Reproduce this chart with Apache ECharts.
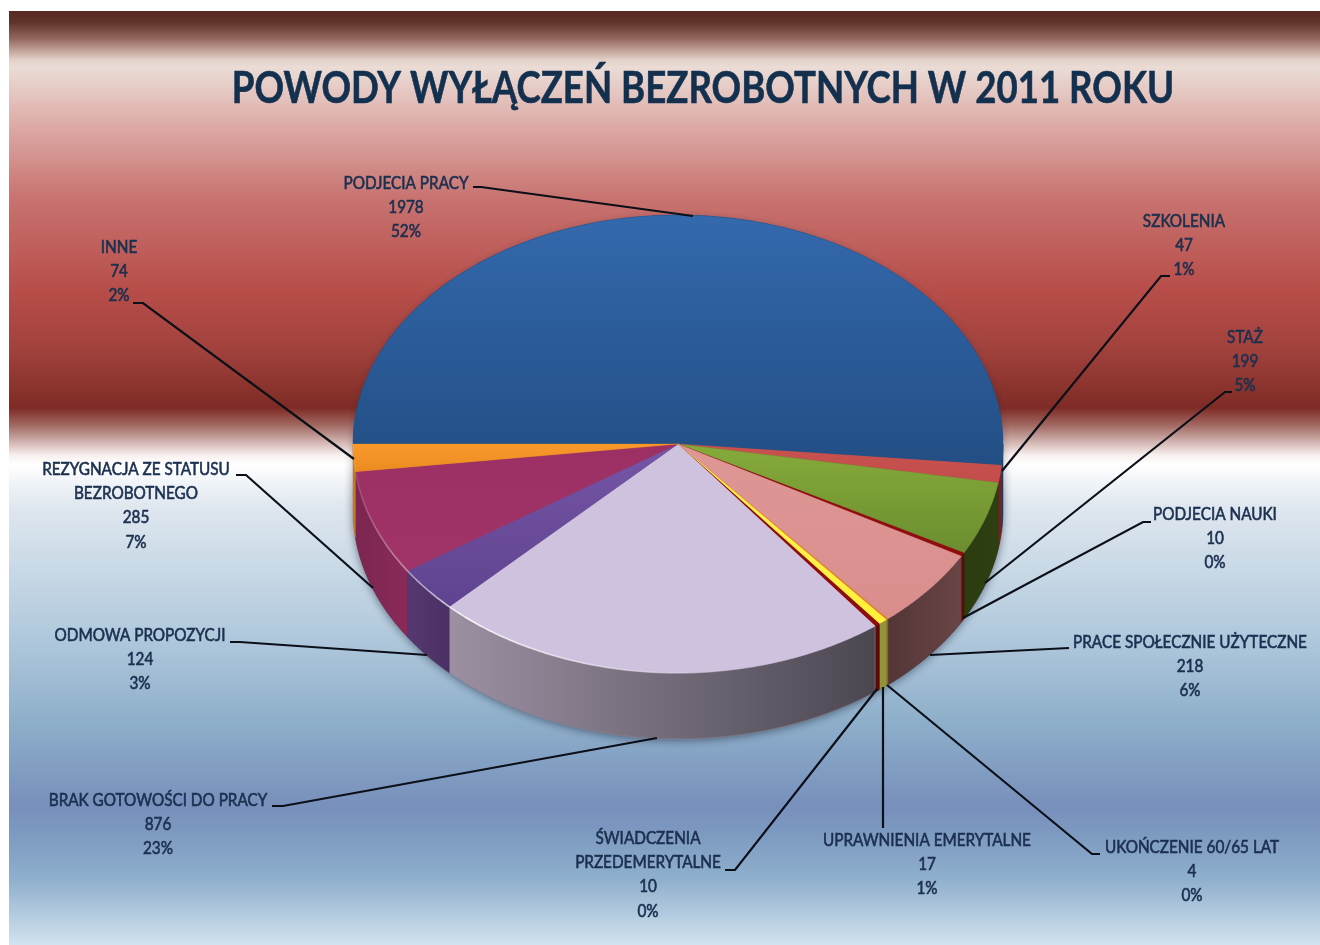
<!DOCTYPE html>
<html>
<head>
<meta charset="utf-8">
<title>Powody wyłączeń bezrobotnych</title>
<style>
html, body { margin: 0; padding: 0; background: #fff; }
#chart { width: 1320px; height: 945px; }
</style>
<script src="https://cdn.jsdelivr.net/npm/echarts@6/dist/echarts.min.js"></script>
</head>
<body>
<div id="chart"></div>
<script>
// data
var chartTitle = 'POWODY WYŁĄCZEŃ BEZROBOTNYCH W 2011 ROKU';
var categories = ['PODJECIA PRACY', 'SZKOLENIA', 'STAŻ', 'PODJECIA NAUKI', 'PRACE SPOŁECZNIE UŻYTECZNE',
  'UKOŃCZENIE 60/65 LAT', 'UPRAWNIENIA EMERYTALNE', 'ŚWIADCZENIA\nPRZEDEMERYTALNE', 'BRAK GOTOWOŚCI DO PRACY',
  'ODMOWA PROPOZYCJI', 'REZYGNACJA ZE STATUSU\nBEZROBOTNEGO', 'INNE'];
var values = [1978, 47, 199, 10, 218, 4, 17, 10, 876, 124, 285, 74];
var percentLabels = ['52%', '1%', '5%', '0%', '6%', '0%', '1%', '0%', '23%', '3%', '7%', '2%'];

// slice colours
var topColors = [['#3469ad', '#224e84'], ['#c9524f', '#c24d4a'], ['#86ab3a', '#6c8d30'], ['#8f0c0c', '#8f0c0c'],
  ['#de9795', '#d98e8c'], ['#e0842a', '#e0842a'], ['#fff25a', '#fff03a'], ['#8f0c0c', '#8f0c0c'],
  ['#cfc2de', '#cfc2de'], ['#7655a6', '#5f4390'], ['#9c3064', '#a03468'], ['#fa9a2c', '#ec8a20']];
var sideColors = [['#1e3f68', '#1e3f68'], ['#7a1f1f', '#7a1f1f'], ['#2b3c10', '#2e4012'], ['#5e0808', '#5e0808'],
  ['#533636', '#6a4545'], ['#8a6a20', '#8a6a20'], ['#93923a', '#93923a'], ['#5e0808', '#5e0808'],
  ['#9c90a2', '#4b4751'], ['#553870', '#4a3064'], ['#7b2651', '#8a2a58'], ['#c77a20', '#c77a20']];

// pie geometry
var cx = 678, cy = 444, rx = 325, ry = 229, depth = 66, startAngle = 180;

// label layout: centre x and top of the text block
var labelX = [406, 1184, 1245, 1215, 1190, 1192, 927, 648, 158, 140, 136, 119];
var labelY = [171, 209, 325, 502, 630, 835, 828, 826, 788, 623, 457, 235];
// leader lines, label end first
var leaders = [
  [[473, 187], [481, 187], [693, 216]],
  [[1170, 276], [1161, 276], [1002, 471]],
  [[1232, 392], [1225, 392], [985, 583]],
  [[1151, 522], [1143, 522], [963, 618]],
  [[1069, 648], [930, 655]],
  [[1100, 854], [1092, 854], [887, 685]],
  [[883, 828], [883, 687]],
  [[725, 870], [735, 870], [877, 689]],
  [[272, 806], [283, 806], [657, 738]],
  [[230, 642], [240, 642], [427, 655]],
  [[236, 475], [246, 475], [373, 588]],
  [[133, 303], [143, 303], [354, 459]]
];

var total = values.reduce(function (a, b) { return a + b; }, 0);

function ell(deg, dy) {
  var r = deg * Math.PI / 180;
  return [cx + rx * Math.cos(r), cy + ry * Math.sin(r) + (dy || 0)];
}
function arc(a0, a1, dy) {
  var pts = [], n = Math.max(2, Math.ceil((a1 - a0) * 2));
  for (var i = 0; i <= n; i++) pts.push(ell(a0 + (a1 - a0) * i / n, dy));
  return pts;
}
function grad(c, horizontal) {
  return new echarts.graphic.LinearGradient(0, 0, horizontal ? 1 : 0, horizontal ? 0 : 1,
    [{ offset: 0, color: c[0] }, { offset: 1, color: c[1] }]);
}

function renderSlice(params, api) {
  var i = params.dataIndex, before = 0;
  for (var k = 0; k < i; k++) before += values[k];
  var a0 = startAngle + before / total * 360;
  var a1 = a0 + api.value(0) / total * 360;
  var children = [];
  var top = [[cx, cy]].concat(arc(a0, a1));

  // soft shadow under the disc
  children.push({ type: 'polygon', z2: 0, shape: { points: top },
    style: { fill: topColors[i][1], shadowBlur: 8, shadowColor: 'rgba(20,30,50,0.3)', shadowOffsetY: 2 } });

  // outer wall, front half only
  var w0 = Math.max(a0, 360), w1 = Math.min(a1, 540);
  // the first slices run past 360, the last ones stop at 540
  if (w1 > w0) {
    var wall = arc(w0, w1).concat(arc(w0, w1, depth).reverse());
    children.push({ type: 'polygon', z2: 0, shape: { points: wall },
      style: { fill: '#444', shadowBlur: 10, shadowColor: 'rgba(20,30,50,0.6)', shadowOffsetY: 1 } });
    children.push({ type: 'polygon', z2: 1, shape: { points: wall },
      style: { fill: grad(sideColors[i], true), stroke: sideColors[i][0], lineWidth: 0.5 } });
  }

  children.push({ type: 'polygon', z2: 2, shape: { points: top },
    style: { fill: grad(topColors[i]), stroke: topColors[i][1], lineWidth: 0.4 } });

  // light bevel along the front rim
  if (w1 > w0) {
    children.push({ type: 'polyline', z2: 3, shape: { points: arc(w0, w1) },
      style: { fill: null, lineWidth: 1.6, stroke: new echarts.graphic.LinearGradient(cx - rx, 0, cx + 60, 0, [
        { offset: 0, color: 'rgba(255,255,255,0.1)' },
        { offset: 0.3, color: 'rgba(255,255,255,0.85)' },
        { offset: 1, color: 'rgba(255,255,255,0)' }
      ], true) } });
  }

  children.push({ type: 'polyline', z2: 4, shape: { points: leaders[i] },
    style: { fill: null, stroke: '#0b0f18', lineWidth: 2.2 } });

  children.push({ type: 'text', z2: 5, x: labelX[i], y: labelY[i], scaleX: 0.9,
    style: {
      text: categories[i] + '\n' + values[i] + '\n' + percentLabels[i],
      x: 0, y: 0, align: 'center', verticalAlign: 'top',
      font: '17px Lato', lineHeight: 24.3, fill: '#1b2f4f',
      stroke: '#1b2f4f', lineWidth: 0.6
    } });

  return { type: 'group', children: children };
}

var chart = echarts.init(document.getElementById('chart'), null, { renderer: 'canvas' });
chart.setOption({
  animation: false,
  backgroundColor: '#fff',
  graphic: [
    { type: 'rect', z: -10, silent: true, shape: { x: 9, y: 11, width: 1311, height: 934 },
      style: { fill: new echarts.graphic.LinearGradient(0, 0, 0, 1, [
        { offset: 0, color: '#572a22' },
        { offset: 0.012, color: '#603229' },
        { offset: 0.03, color: '#96695f' },
        { offset: 0.052, color: '#e2cfc8' },
        { offset: 0.06, color: '#ebdcd6' },
        { offset: 0.125, color: '#dca9a5' },
        { offset: 0.2, color: '#c87370' },
        { offset: 0.3, color: '#b74d49' },
        { offset: 0.36, color: '#a2423d' },
        { offset: 0.425, color: '#7f2b25' },
        { offset: 0.445, color: '#a56e68' },
        { offset: 0.475, color: '#f6eeec' },
        { offset: 0.485, color: '#ffffff' },
        { offset: 0.53, color: '#dfe7ef' },
        { offset: 0.66, color: '#b4cbde' },
        { offset: 0.76, color: '#8eafca' },
        { offset: 0.85, color: '#7890bc' },
        { offset: 0.875, color: '#7b97bf' },
        { offset: 0.93, color: '#8fb0cd' },
        { offset: 1, color: '#d3e2ef' }
      ]) } },
    { type: 'text', z: 10, silent: true, x: 703, y: 68, scaleX: 0.852,
      style: { text: chartTitle, x: 0, y: 0, align: 'center', verticalAlign: 'top',
        font: 'bold 43px Lato', fill: '#14304f', stroke: '#14304f', lineWidth: 0.6 } }
  ],
  series: [{
    type: 'custom',
    coordinateSystem: 'none',
    silent: true,
    data: values.map(function (v) { return [v]; }),
    renderItem: renderSlice
  }]
});
</script>
</body>
</html>
